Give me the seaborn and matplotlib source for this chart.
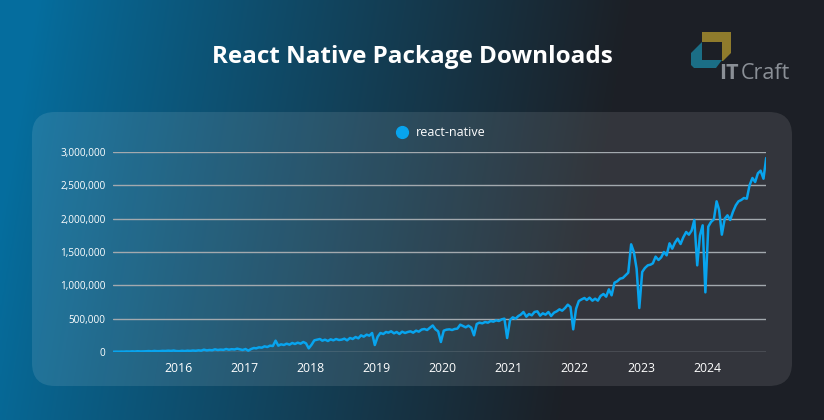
import matplotlib
matplotlib.use("Agg")

import matplotlib.pyplot as plt
import numpy as np
import pandas as pd
import seaborn as sns
from matplotlib.lines import Line2D
from matplotlib.patches import FancyBboxPatch, Polygon
from matplotlib.ticker import FuncFormatter


W, H = 824, 420

LINE_COLOR = "#08a4ee"
GRID_COLOR = "#a3a9ae"
LOGO_GRAY = "#8a8f96"

# weekly npm downloads at two points per month (8th, 23rd)
DL_2015 = [3000, 5000, 4000, 6000, 5000, 8000, 6000, 10000, 7000, 12000, 8000, 9000,
           11000, 14000, 10000, 16000, 12000, 13000, 17000, 15000, 20000, 16000, 22000, 14000]
DL_2016 = [12000, 18000, 14000, 20000, 16000, 22000, 18000, 25000, 20000, 35000, 24000, 30000,
           26000, 40000, 30000, 36000, 32000, 45000, 34000, 42000, 38000, 50000, 40000, 30000]
DL_2017 = [45000, 20000, 45000, 60000, 55000, 70000, 65000, 85000, 75000, 95000, 90000, 170000,
           95000, 115000, 105000, 125000, 110000, 135000, 120000, 140000, 125000, 150000, 130000, 55000]
DL_2018 = [110000, 175000, 185000, 195000, 170000, 185000, 165000, 190000, 175000, 195000, 180000, 185000,
           200000, 175000, 210000, 195000, 225000, 205000, 250000, 230000, 260000, 245000, 285000, 105000]
DL_2019 = [230000, 285000, 270000, 300000, 290000, 311000, 280000, 300000, 270000, 305000, 285000, 300000,
           310000, 290000, 320000, 305000, 337000, 345000, 330000, 362000, 398000, 340000, 310000, 150000]
DL_2020 = [320000, 335000, 340000, 330000, 345000, 350000, 410000, 390000, 370000, 395000, 365000, 250000,
           420000, 440000, 430000, 450000, 440000, 465000, 455000, 475000, 465000, 490000, 500000, 210000]
DL_2021 = [480000, 520000, 500000, 540000, 560000, 600000, 530000, 570000, 550000, 600000, 610000, 545000,
           580000, 560000, 600000, 540000, 590000, 610000, 640000, 620000, 660000, 710000, 675000, 340000]
DL_2022 = [650000, 765000, 790000, 810000, 780000, 815000, 770000, 800000, 770000, 840000, 870000, 830000,
           940000, 850000, 1040000, 1060000, 1100000, 1110000, 1150000, 1190000, 1615000, 1500000, 1250000, 660000]
DL_2023 = [1200000, 1260000, 1300000, 1310000, 1330000, 1430000, 1380000, 1420000, 1500000, 1450000, 1630000, 1550000,
           1640000, 1700000, 1620000, 1720000, 1800000, 1760000, 1820000, 1980000, 1300000, 1750000, 1900000, 895000]
DL_2024 = [1880000, 1950000, 1990000, 2260000, 2130000, 1760000, 2000000, 2050000, 1980000, 2100000, 2200000, 2260000,
           2280000, 2310000, 2300000, 2500000, 2610000, 2550000, 2680000, 2720000, 2600000, 2910000]

YEARS = [2015, 2016, 2017, 2018, 2019, 2020, 2021, 2022, 2023, 2024]
SERIES = [DL_2015, DL_2016, DL_2017, DL_2018, DL_2019, DL_2020, DL_2021, DL_2022, DL_2023, DL_2024]

Y_TICKS = [0, 500000, 1000000, 1500000, 2000000, 2500000, 3000000]
X_TICK_YEARS = [2016, 2017, 2018, 2019, 2020, 2021, 2022, 2023, 2024]


def build_frame() -> pd.DataFrame:
    rows = []
    for year, values in zip(YEARS, SERIES):
        for i, v in enumerate(values):
            month = i // 2 + 1
            day = 8 if i % 2 == 0 else 23
            rows.append({"date": pd.Timestamp(year, month, day), "downloads": v})
    return pd.DataFrame(rows)


def fx(px):
    return px / W


def fy(py):
    return 1 - py / H


sns.set_theme(style="dark")
plt.rcParams["font.family"] = ["Open Sans", "DejaVu Sans"]

df = build_frame()

fig = plt.figure(figsize=(W / 100, H / 100), dpi=100)

# background gradient
bg = fig.add_axes([0, 0, 1, 1], zorder=0)
bg.set_axis_off()
xx, yy = np.meshgrid(np.linspace(0, 1, 400), np.linspace(0, 1, 200))
t = np.clip((xx - 0.02) / 0.72 + 0.12 * (yy - 0.3), 0, 1) ** 0.9
c0 = np.array([0.02, 0.43, 0.62])
c1 = np.array([0.11, 0.125, 0.15])
img = c0[None, None, :] * (1 - t[..., None]) + c1[None, None, :] * t[..., None]
bg.imshow(img, extent=[0, 1, 0, 1], aspect="auto", origin="upper")
bg.set_xlim(0, 1)
bg.set_ylim(0, 1)

# panel
panel = FancyBboxPatch(
    (fx(32), fy(386)), fx(792) - fx(32), fy(112) - fy(386),
    boxstyle="round,pad=0,rounding_size=0.028",
    transform=fig.transFigure, facecolor="white", alpha=0.10,
    edgecolor="none", zorder=1, mutation_aspect=W / H
)
fig.patches.append(panel)

# logo
gold = [(702, 32), (731, 32), (731, 53), (723, 61), (722, 61), (722, 42), (702, 42)]
teal = [(691, 53), (702, 42), (702, 60), (722, 60), (716, 68), (694, 68), (691, 65)]
for pts, col in [(gold, "#8f7b2c"), (teal, "#1b6e86")]:
    fig.patches.append(Polygon([(fx(x), fy(y)) for x, y in pts], closed=True,
                               transform=fig.transFigure, facecolor=col,
                               edgecolor="none", zorder=2))
fig.text(fx(719), fy(79), "IT", color=LOGO_GRAY, fontsize=15.5, fontweight="bold",
         va="baseline", ha="left")
fig.text(fx(741), fy(79), "Craft", color=LOGO_GRAY, fontsize=15.5,
         va="baseline", ha="left")

fig.text(fx(412), fy(57), "React Native Package Downloads", color="white",
         fontsize=17.5, fontweight="bold", ha="center", va="center")

# chart
left, right, top, bottom = 113.2, 766.2, 152, 352
ax = fig.add_axes([fx(left), fy(bottom), fx(right) - fx(left), fy(top) - fy(bottom)], zorder=3)
ax.set_facecolor("none")

sns.lineplot(data=df, x="date", y="downloads", ax=ax, color=LINE_COLOR,
             linewidth=1.8, label="react-native", legend=False)

ax.set_xlim(df["date"].iloc[0], df["date"].iloc[-1])
ax.set_ylim(0, 3000000)
ax.set_yticks(Y_TICKS)
ax.yaxis.set_major_formatter(FuncFormatter(lambda v, _: f"{int(v):,}"))
ax.set_xticks([pd.Timestamp(y, 1, 1) for y in X_TICK_YEARS])
ax.set_xticklabels([str(y) for y in X_TICK_YEARS])

ax.grid(axis="y", color=GRID_COLOR, linewidth=1)
ax.grid(axis="x", visible=False)
ax.set_axisbelow(True)
for s in ax.spines.values():
    s.set_visible(False)
ax.tick_params(axis="y", length=5, width=1, color=GRID_COLOR, pad=0.5,
               labelsize=7.2, labelcolor="white")
ax.tick_params(axis="x", length=0, pad=7, labelsize=8.8, labelcolor="white")
ax.set_xlabel("")
ax.set_ylabel("")

handle = Line2D([], [], marker="o", linestyle="none", markersize=8.5,
                markerfacecolor=LINE_COLOR, markeredgecolor=LINE_COLOR)
fig.legend([handle], ["react-native"], loc="center",
           bbox_to_anchor=(fx(441), fy(133)), frameon=False,
           handletextpad=0.6, fontsize=9, labelcolor="white",
           handlelength=1)

fig.savefig("out.png", dpi=100)
